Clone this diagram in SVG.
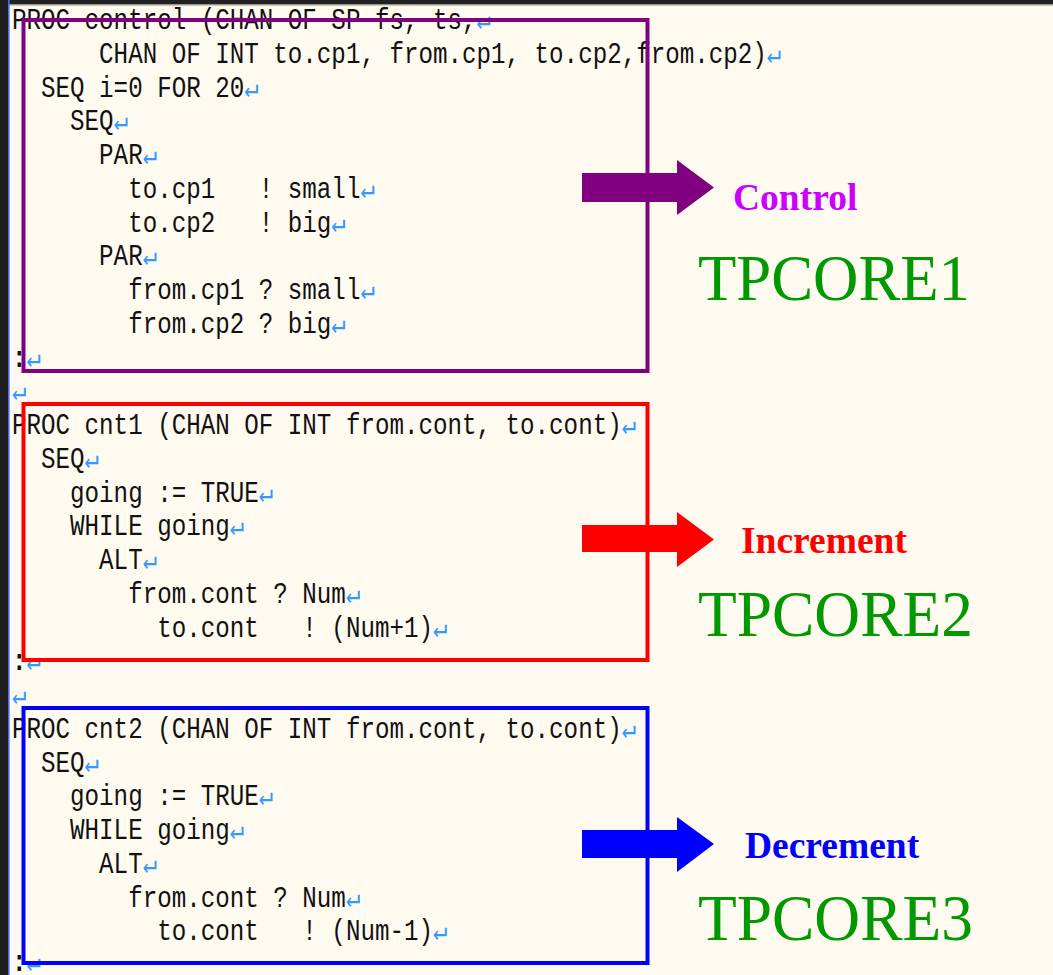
<svg xmlns="http://www.w3.org/2000/svg" width="1053" height="975" viewBox="0 0 1053 975">
  <style>
    .code { font-family: "Liberation Mono", "DejaVu Sans Mono", monospace; font-size: 24.2px; fill: #111; white-space: pre; }
    .ret { font-family: "DejaVu Sans Mono", "DejaVu Sans", monospace; fill: #3399ff; font-size: 24px; }
    .box { fill: none; stroke-width: 4; }
    .role { font-family: "Liberation Serif", "Times New Roman", serif; font-weight: bold; font-size: 37.5px; }
    .core { font-family: "Liberation Serif", "Times New Roman", serif; font-size: 66px; fill: #009900; }
  </style>

  <!-- editor background and window frame -->
  <rect x="0" y="0" width="1053" height="975" fill="#fffaf0"/>
  <rect x="0" y="0" width="1053" height="4" fill="#222"/>
  <rect x="0" y="4" width="1053" height="1.5" fill="#9a9a8a"/>
  <rect x="0" y="0" width="8" height="975" fill="#1e1e1e"/>
  <rect x="8" y="0" width="1.6" height="975" fill="#4a66ff"/>

  <!-- occam source listing -->
  <g id="source">
    <text class="code" transform="translate(12 29) scale(1 1.2)">PROC control (CHAN OF SP fs, ts,<tspan class="ret">↵</tspan></text>
    <text class="code" transform="translate(12 62.75) scale(1 1.2)">      CHAN OF INT to.cp1, from.cp1, to.cp2,from.cp2)<tspan class="ret">↵</tspan></text>
    <text class="code" transform="translate(12 96.5) scale(1 1.2)">  SEQ i=0 FOR 20<tspan class="ret">↵</tspan></text>
    <text class="code" transform="translate(12 130.25) scale(1 1.2)">    SEQ<tspan class="ret">↵</tspan></text>
    <text class="code" transform="translate(12 164) scale(1 1.2)">      PAR<tspan class="ret">↵</tspan></text>
    <text class="code" transform="translate(12 197.75) scale(1 1.2)">        to.cp1   ! small<tspan class="ret">↵</tspan></text>
    <text class="code" transform="translate(12 231.5) scale(1 1.2)">        to.cp2   ! big<tspan class="ret">↵</tspan></text>
    <text class="code" transform="translate(12 265.25) scale(1 1.2)">      PAR<tspan class="ret">↵</tspan></text>
    <text class="code" transform="translate(12 299) scale(1 1.2)">        from.cp1 ? small<tspan class="ret">↵</tspan></text>
    <text class="code" transform="translate(12 332.75) scale(1 1.2)">        from.cp2 ? big<tspan class="ret">↵</tspan></text>
    <text class="code" transform="translate(12 366.5) scale(1 1.2)" font-weight="bold">:<tspan class="ret" font-weight="normal">↵</tspan></text>
    <text class="code" transform="translate(12 400.25) scale(1 1.2)"><tspan class="ret">↵</tspan></text>
    <text class="code" transform="translate(12 434) scale(1 1.2)">PROC cnt1 (CHAN OF INT from.cont, to.cont)<tspan class="ret">↵</tspan></text>
    <text class="code" transform="translate(12 467.75) scale(1 1.2)">  SEQ<tspan class="ret">↵</tspan></text>
    <text class="code" transform="translate(12 501.5) scale(1 1.2)">    going := TRUE<tspan class="ret">↵</tspan></text>
    <text class="code" transform="translate(12 535.25) scale(1 1.2)">    WHILE going<tspan class="ret">↵</tspan></text>
    <text class="code" transform="translate(12 569) scale(1 1.2)">      ALT<tspan class="ret">↵</tspan></text>
    <text class="code" transform="translate(12 602.75) scale(1 1.2)">        from.cont ? Num<tspan class="ret">↵</tspan></text>
    <text class="code" transform="translate(12 636.5) scale(1 1.2)">          to.cont   ! (Num+1)<tspan class="ret">↵</tspan></text>
    <text class="code" transform="translate(12 670.25) scale(1 1.2)" font-weight="bold">:<tspan class="ret" font-weight="normal">↵</tspan></text>
    <text class="code" transform="translate(12 704) scale(1 1.2)"><tspan class="ret">↵</tspan></text>
    <text class="code" transform="translate(12 737.75) scale(1 1.2)">PROC cnt2 (CHAN OF INT from.cont, to.cont)<tspan class="ret">↵</tspan></text>
    <text class="code" transform="translate(12 771.5) scale(1 1.2)">  SEQ<tspan class="ret">↵</tspan></text>
    <text class="code" transform="translate(12 805.25) scale(1 1.2)">    going := TRUE<tspan class="ret">↵</tspan></text>
    <text class="code" transform="translate(12 839) scale(1 1.2)">    WHILE going<tspan class="ret">↵</tspan></text>
    <text class="code" transform="translate(12 872.75) scale(1 1.2)">      ALT<tspan class="ret">↵</tspan></text>
    <text class="code" transform="translate(12 906.5) scale(1 1.2)">        from.cont ? Num<tspan class="ret">↵</tspan></text>
    <text class="code" transform="translate(12 940.25) scale(1 1.2)">          to.cont   ! (Num-1)<tspan class="ret">↵</tspan></text>
    <text class="code" transform="translate(12 971) scale(1 1.2)" font-weight="bold">:<tspan class="ret" font-weight="normal">↵</tspan></text>
  </g>

  <!-- process blocks with their core assignment -->
  <g id="control">
    <rect class="box" x="23.5" y="20" width="624" height="351" stroke="#800080"/>
    <text class="role" x="733" y="210" fill="#cc00ff">Control</text>
    <text class="core" x="698" y="300" textLength="272" lengthAdjust="spacingAndGlyphs">TPCORE1</text>
  </g>
  <g id="increment">
    <rect class="box" x="23.5" y="404" width="624" height="256" stroke="#ff0000"/>
    <text class="role" x="741" y="553" fill="#ff0000">Increment</text>
    <text class="core" x="698" y="636" textLength="275" lengthAdjust="spacingAndGlyphs">TPCORE2</text>
  </g>
  <g id="decrement">
    <rect class="box" x="23.5" y="708" width="624" height="255" stroke="#0000ff"/>
    <text class="role" x="745" y="858" fill="#0000ff">Decrement</text>
    <text class="core" x="698" y="940" textLength="275" lengthAdjust="spacingAndGlyphs">TPCORE3</text>
  </g>

  <!-- block arrows from each process to its label -->
  <g id="connectors">
    <polygon points="582,173 677,173 677,160 714,187.5 677,215 677,202 582,202" fill="#800080"/>
    <polygon points="582,525 677,525 677,512 714,539.5 677,567 677,552 582,552" fill="#ff0000"/>
    <polygon points="582,830 677,830 677,817 714,844 677,872 677,858 582,858" fill="#0000ff"/>
  </g>
</svg>
